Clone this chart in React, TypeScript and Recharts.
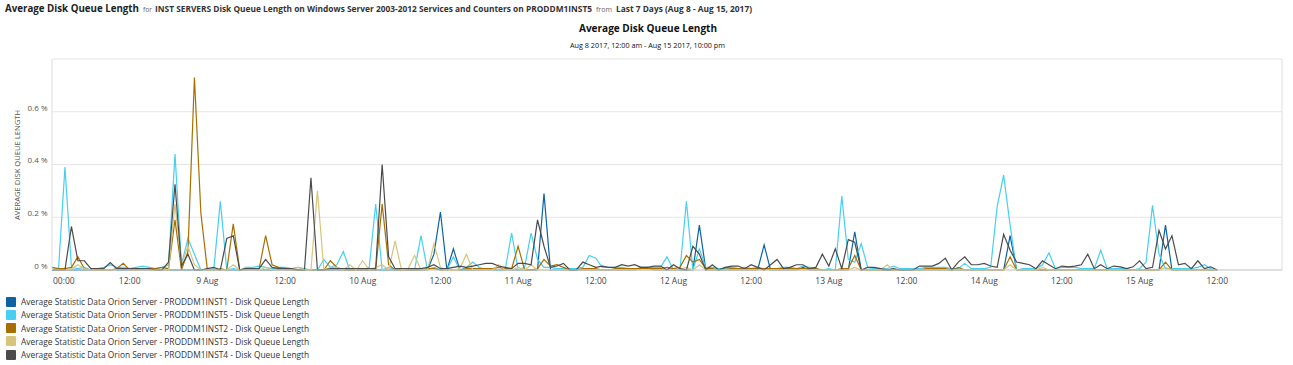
import React from 'react';
import { LineChart, Line, XAxis, YAxis, CartesianGrid, ReferenceLine } from 'recharts';

// hours since Aug 8 2017 00:00 (hourly samples)
const HOURS: number[] = Array.from({ length: 181 }, (_, i) => i);

const INST1: number[] = [
  0,0,0,0,0,0,0,0,0,0,0,0,0,0,0,0,0,0,0,0,0,0,0,0,
  0,0,0,0,0,0,0,0,0,0,0,0,0,0,0,0,0,0,0,0,0,0,0,0,
  0,0,0,0,0,0,0,0,0,0,0,0.06,0.22,0,0.08,0,0,0,0,0,0,0,0,0,
  0,0,0,0,0.29,0,0,0,0,0,0,0,0,0,0,0,0,0,0,0.01,0.01,0,0,0,
  0,0,0,0,0.17,0,0,0,0,0,0,0,0,0,0.095,0,0,0,0,0,0.01,0,0,0,
  0,0,0,0,0.145,0,0,0,0,0,0,0,0,0,0,0,0,0,0,0,0,0,0,0,
  0,0,0,0,0.13,0,0,0,0,0,0,0,0,0,0,0,0,0,0,0,0,0,0,0,
  0,0,0,0,0.17,0,0,0,0,0,0,0,0,
];

const INST5: number[] = [
  0.01,0,0.39,0.01,0.005,0.01,0,0.005,0.01,0.02,0.01,0.01,0.005,0.01,0.015,0.01,0.005,0.01,0.02,0.44,0.02,0.12,0.06,0,
  0,0.005,0.26,0,0.005,0,0.01,0.01,0.015,0.01,0.005,0.01,0.01,0.005,0.01,0.005,0,0,0.04,0.01,0.02,0.07,0,0.005,
  0,0.01,0.25,0,0.01,0,0.005,0,0,0.13,0,0.01,0,0,0.05,0,0.01,0.03,0.01,0,0.005,0,0,0.14,
  0,0.01,0.14,0.04,0.01,0.01,0.005,0.005,0.005,0.005,0.01,0.055,0.045,0.01,0.01,0.01,0.01,0.005,0.005,0.005,0.01,0.01,0.01,0.05,
  0,0,0.26,0,0.08,0.01,0.01,0.005,0.005,0.01,0.005,0.01,0.005,0.01,0.005,0,0.005,0.01,0.01,0.005,0.015,0.01,0.005,0,
  0.005,0,0.28,0.04,0.03,0.1,0.01,0.005,0.005,0.005,0.015,0.005,0.005,0.005,0.005,0.01,0.01,0.01,0.01,0.005,0.005,0.025,0.005,0.005,
  0.005,0.01,0.24,0.36,0.17,0,0.005,0.005,0.005,0.02,0.065,0.005,0.01,0.01,0.01,0.005,0.005,0.005,0.075,0.005,0.005,0.005,0.005,0,
  0.005,0.03,0.245,0.06,0.005,0.005,0.005,0.005,0.005,0.01,0.02,0.005,0,
];

const INST2: number[] = [
  0.01,0.005,0.005,0.01,0.05,0.005,0,0,0,0,0.005,0.025,0,0,0.005,0.005,0.005,0.01,0.005,0.19,0,0.07,0.73,0.215,
  0,0,0.005,0,0.175,0,0.005,0.005,0.005,0.13,0.02,0.01,0.005,0,0,0,0,0,0,0.035,0.01,0,0,0,
  0,0,0,0.25,0.02,0,0,0,0,0,0.005,0.005,0,0,0,0,0.005,0.005,0.005,0.005,0.005,0.01,0.005,0.005,
  0.09,0,0,0.005,0.04,0.015,0.02,0.01,0,0,0.005,0.005,0.005,0,0,0.005,0.005,0.005,0.005,0.005,0.005,0.005,0.005,0.01,
  0.005,0.01,0.055,0.03,0.04,0.005,0.005,0,0.01,0.005,0.005,0.005,0.005,0.005,0.005,0.005,0.005,0.005,0.005,0.005,0.005,0.005,0.005,0,
  0,0,0.005,0.005,0.055,0,0,0,0,0,0,0,0,0,0,0.005,0.005,0.005,0.005,0,0.01,0,0,0,
  0,0,0,0,0.05,0,0,0,0,0,0,0,0,0,0,0,0,0,0,0,0,0,0,0,
  0,0,0,0,0.03,0,0,0,0,0,0,0,0,
];

const INST3: number[] = [
  0.005,0,0,0.005,0.02,0.005,0,0,0,0,0,0.01,0,0,0,0,0,0,0,0.25,0.02,0.09,0.02,0,
  0,0,0,0,0.02,0,0,0,0,0.01,0,0,0,0,0.01,0,0,0.3,0,0.01,0.01,0,0.02,0,
  0.035,0,0.01,0.02,0,0.11,0,0.005,0.055,0,0,0.1,0.01,0,0,0.005,0.06,0,0,0,0,0.02,0,0,
  0.01,0,0.02,0,0,0,0,0,0,0,0,0,0,0,0,0,0,0,0,0,0,0,0,0,
  0,0,0.01,0,0.02,0,0,0,0,0,0,0,0,0,0,0,0,0,0,0,0,0,0,0,
  0,0,0,0,0.01,0,0,0,0,0.02,0,0,0,0,0,0,0,0,0,0,0,0,0,0,
  0,0,0,0,0.02,0,0,0,0,0.01,0,0,0,0,0,0,0,0,0,0,0,0,0,0,
  0,0,0,0,0.01,0,0,0,0,0,0,0,0,
];

const INST4: number[] = [
  0,0,0,0.165,0.035,0.035,0.005,0.005,0.005,0.028,0.005,0.005,0.005,0.005,0.005,0.005,0,0,0.03,0.325,0.015,0.06,0,0,
  0.005,0.01,0,0.12,0.13,0,0.005,0.005,0.005,0.04,0.01,0.005,0.005,0.005,0,0,0.35,0,0,0.005,0.005,0.005,0.005,0.005,
  0.005,0.005,0.005,0.4,0.05,0.005,0.005,0.005,0.005,0.005,0.01,0.02,0.005,0.005,0.01,0.015,0.01,0.015,0.02,0.025,0.025,0.015,0.01,0.005,
  0.025,0.025,0.02,0.19,0.09,0.01,0.015,0.025,0,0,0.03,0.02,0.01,0.015,0.01,0.01,0.02,0.015,0.02,0.01,0.01,0.015,0.015,0,
  0.02,0.005,0,0.09,0.06,0,0.02,0,0.01,0.015,0.015,0.005,0.02,0.01,0,0.02,0.04,0.005,0.01,0.02,0.02,0.005,0.01,0.06,
  0.015,0.08,0.005,0.115,0.105,0,0.01,0.01,0.005,0,0.005,0,0,0,0.015,0.015,0.015,0.025,0.045,0,0.03,0.05,0.02,0.02,
  0.025,0.015,0.01,0.135,0.075,0.03,0.025,0.02,0.005,0.035,0.02,0.005,0.015,0.012,0.015,0.02,0.06,0.005,0.02,0.005,0.015,0.012,0.005,0.012,
  0.035,0.005,0.01,0.15,0.08,0.13,0.02,0.025,0.005,0.035,0.005,0.012,0,
];

const X_TICKS = [0, 12, 24, 36, 48, 60, 72, 84, 96, 108, 120, 132, 144, 156, 168, 180];
const X_TICK_LABELS = ['00:00', '12:00', '9 Aug', '12:00', '10 Aug', '12:00', '11 Aug', '12:00', '12 Aug', '12:00', '13 Aug', '12:00', '14 Aug', '12:00', '15 Aug', '12:00'];
const Y_TICKS = [0, 0.2, 0.4, 0.6, 0.8];
const Y_TICK_LABELS = ['0 %', '0.2 %', '0.4 %', '0.6 %', ''];

const SERIES = [
  { key: 'inst1', name: 'Average Statistic Data Orion Server - PRODDM1INST1 - Disk Queue Length', color: '#0b63a3', values: INST1 },
  { key: 'inst5', name: 'Average Statistic Data Orion Server - PRODDM1INST5 - Disk Queue Length', color: '#47cff1', values: INST5 },
  { key: 'inst2', name: 'Average Statistic Data Orion Server - PRODDM1INST2 - Disk Queue Length', color: '#a86f00', values: INST2 },
  { key: 'inst3', name: 'Average Statistic Data Orion Server - PRODDM1INST3 - Disk Queue Length', color: '#d8c47b', values: INST3 },
  { key: 'inst4', name: 'Average Statistic Data Orion Server - PRODDM1INST4 - Disk Queue Length', color: '#4b4b4b', values: INST4 },
];

const data = HOURS.map((h, i) => {
  const row: Record<string, number> = { h };
  SERIES.forEach((s) => { row[s.key] = s.values[i]; });
  return row;
});

const FONT = "'Open Sans', 'DejaVu Sans', sans-serif";

const XTick = (props: any) => {
  const { x, y, payload } = props;
  const idx = X_TICKS.indexOf(payload.value);
  const first = idx === 0;
  return (
    <text x={first ? x + 1 : x} y={y + 11.5} textAnchor={first ? 'start' : 'middle'} fontFamily={FONT} fontSize={8.5} fill="#444">
      {X_TICK_LABELS[idx]}
    </text>
  );
};

const YTick = (props: any) => {
  const { y, payload } = props;
  const idx = Y_TICKS.indexOf(payload.value);
  return (
    <text x={47.5} y={y - 1.2} textAnchor="end" fontFamily={FONT} fontSize={8} fill="#555">
      {Y_TICK_LABELS[idx]}
    </text>
  );
};

export default function App() {
  return (
    <div style={{ position: 'absolute', left: 0, top: 0, width: 1293, height: 365, background: '#fff', overflow: 'hidden' }}>
      <div style={{ position: 'absolute', left: 0, top: 0 }}>
        <LineChart width={1293} height={300} data={data} margin={{ top: 59, right: 11, bottom: 10, left: 0 }}>
          <CartesianGrid vertical={false} stroke="#e6e6e6" />
          <XAxis
            dataKey="h"
            type="number"
            domain={[0, 190]}
            ticks={X_TICKS}
            tick={<XTick />}
            tickLine={false}
            tickSize={0}
            height={20}
            axisLine={{ stroke: '#cccccc' }}
            interval={0}
          />
          <YAxis
            type="number"
            domain={[0, 0.8]}
            ticks={Y_TICKS}
            tick={<YTick />}
            tickLine={false}
            tickSize={0}
            width={52}
            axisLine={{ stroke: '#dddddd' }}
            interval={0}
          />
          <ReferenceLine x={190} stroke="#dddddd" />
          {SERIES.map((s) => (
            <Line
              key={s.key}
              dataKey={s.key}
              name={s.name}
              type="linear"
              stroke={s.color}
              strokeWidth={1.2}
              dot={false}
              activeDot={false}
              isAnimationActive={false}
            />
          ))}
        </LineChart>
      </div>
      <svg width={1293} height={300} style={{ position: 'absolute', left: 0, top: 0, pointerEvents: 'none' }}>
        <text x={5} y={11.5} fontFamily={FONT} fontWeight="bold" fontSize={10} fill="#222" textLength={134} lengthAdjust="spacingAndGlyphs">Average Disk Queue Length</text>
        <text x={143} y={11.5} fontFamily={FONT} fontSize={7.5} fill="#666" textLength={9} lengthAdjust="spacingAndGlyphs">for</text>
        <text x={155} y={11.5} fontFamily={FONT} fontWeight="bold" fontSize={8.3} fill="#333" textLength={437} lengthAdjust="spacingAndGlyphs">INST SERVERS Disk Queue Length on Windows Server 2003-2012 Services and Counters on PRODDM1INST5</text>
        <text x={596} y={11.5} fontFamily={FONT} fontSize={7.5} fill="#666" textLength={16} lengthAdjust="spacingAndGlyphs">from</text>
        <text x={616} y={11.5} fontFamily={FONT} fontWeight="bold" fontSize={8.3} fill="#333" textLength={136} lengthAdjust="spacingAndGlyphs">Last 7 Days (Aug 8 - Aug 15, 2017)</text>
        <text x={579} y={32} fontFamily={FONT} fontWeight="bold" fontSize={10.4} fill="#111" textLength={138} lengthAdjust="spacingAndGlyphs">Average Disk Queue Length</text>
        <text x={570} y={48} fontFamily={FONT} fontSize={7.2} fill="#111" textLength={155} lengthAdjust="spacingAndGlyphs">Aug 8 2017, 12:00 am - Aug 15 2017, 10:00 pm</text>
        <text x={0} y={0} transform="translate(19.5,165) rotate(-90)" textAnchor="middle" fontFamily={FONT} fontSize={7} fill="#555" textLength={110} lengthAdjust="spacingAndGlyphs">AVERAGE DISK QUEUE LENGTH</text>
      </svg>
      {SERIES.map((s, i) => (
        <div key={s.key} style={{ position: 'absolute', left: 6, top: 296 + i * 13.3, height: 11, display: 'flex', alignItems: 'center' }}>
          <div style={{ width: 10, height: 10, background: s.color, borderRadius: 1 }} />
          <span style={{ marginLeft: 5, fontFamily: FONT, fontSize: 8.4, color: '#333', whiteSpace: 'nowrap', lineHeight: '11px' }}>{s.name}</span>
        </div>
      ))}
    </div>
  );
}
